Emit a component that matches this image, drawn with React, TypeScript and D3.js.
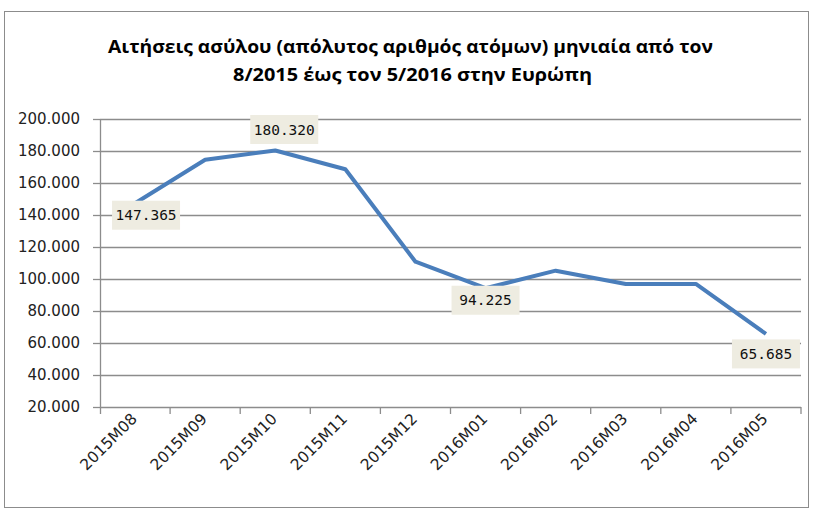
import React from "react";
import * as d3 from "d3";

const categories = ["2015M08","2015M09","2015M10","2015M11","2015M12","2016M01","2016M02","2016M03","2016M04","2016M05"];
const values = [147365, 174500, 180320, 168600, 110800, 94225, 105200, 96900, 96900, 65685];
const yTicks = [20000,40000,60000,80000,100000,120000,140000,160000,180000,200000];
const labeled = [
  { i: 0, dx: 11, dy: 12 },
  { i: 2, dx: 9, dy: -21 },
  { i: 5, dx: 0, dy: 12 },
  { i: 9, dx: 0, dy: 20 },
];

const fmt = (v: number) => d3.format(",.0f")(v).replace(/,/g, ".");
const fmt3 = (v: number) => (v / 1000).toFixed(3);

export default function App() {
  const W = 813, H = 509;
  const left = 100, right = 801, top = 119, bottom = 407;
  const x = d3.scaleBand().domain(categories).range([left, right]);
  const y = d3.scaleLinear().domain([20000, 200000]).range([bottom, top]);
  const line = d3.line<number>().x((_, i) => x(categories[i])! + x.bandwidth() / 2).y(d => y(d));
  const grid = "#8c8c8c";
  const tickFont = "'DejaVu Sans', Verdana, sans-serif";
  return (
    <svg width={W} height={H} style={{ position: "absolute", left: 0, top: 0, background: "#fff" }}>
      <rect x={4.5} y={11.5} width={804} height={496} fill="#fff" stroke="#8c8c8c" strokeWidth={1} />
      <text x={410.5} y={53} textAnchor="middle" fontFamily="'Open Sans', sans-serif" fontWeight="bold" fontSize={17.5} textLength={605} lengthAdjust="spacingAndGlyphs">Αιτήσεις ασύλου (απόλυτος αριθμός ατόμων) μηνιαία από τον</text>
      <text x={412.5} y={81} textAnchor="middle" fontFamily="'Open Sans', sans-serif" fontWeight="bold" fontSize={17.5} textLength={359} lengthAdjust="spacingAndGlyphs">8/2015  έως τον 5/2016  στην Ευρώπη</text>
      {yTicks.map(t => (
        <g key={t}>
          <line x1={left} x2={right} y1={Math.round(y(t)) + 0.5} y2={Math.round(y(t)) + 0.5} stroke={grid} strokeWidth={1.3} />
          <line x1={left - 7} x2={left} y1={Math.round(y(t)) + 0.5} y2={Math.round(y(t)) + 0.5} stroke={grid} strokeWidth={1.3} />
          <text x={80} y={y(t)} dy="0.35em" textAnchor="end" fontFamily={tickFont} fontSize={15} fill="#222">{fmt3(t)}</text>
        </g>
      ))}
      <line x1={left + 0.5} x2={left + 0.5} y1={top} y2={bottom + 7} stroke={grid} strokeWidth={1.3} />
      {categories.map((c, i) => (
        <line key={"t" + c} x1={x(c)! + x.bandwidth()} x2={x(c)! + x.bandwidth()} y1={bottom} y2={bottom + 7} stroke={grid} strokeWidth={1.3} />
      ))}
      {categories.map(c => {
        const cx = x(c)! + x.bandwidth() / 2 - 1;
        const cy = 416;
        return (
          <text key={c} x={cx} y={cy} transform={`rotate(-45 ${cx} ${cy})`} textAnchor="end" dy="0.35em" fontFamily={tickFont} fontSize={15.5} fill="#222">{c}</text>
        );
      })}
      <path d={line(values)!} fill="none" stroke="#4a7ebb" strokeWidth={4} strokeLinejoin="round" />
      {labeled.map(({ i, dx, dy }) => {
        const cx = x(categories[i])! + x.bandwidth() / 2 + dx;
        const cy = y(values[i]) + dy;
        const w = 68, h = 29;
        return (
          <g key={"l" + i}>
            <rect x={cx - w / 2} y={cy - h / 2} width={w} height={h} fill="#eeece1" />
            <text x={cx} y={cy} dy="0.36em" textAnchor="middle" fontFamily="'DejaVu Sans Mono', monospace" fontSize={14.5} fill="#111">{fmt(values[i])}</text>
          </g>
        );
      })}
    </svg>
  );
}
